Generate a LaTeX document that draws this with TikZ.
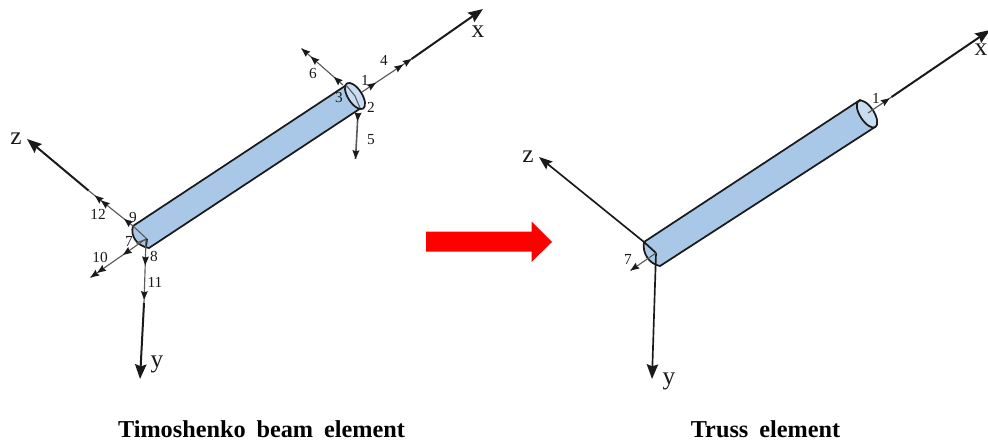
\documentclass[tikz,border=0pt]{standalone}
\usepackage{fontspec}
\setmainfont{Liberation Serif}
\usetikzlibrary{arrows.meta,decorations.markings}
\definecolor{cyl}{HTML}{A9C8E8}
\definecolor{capc}{HTML}{C9DDF2}
\definecolor{ink}{HTML}{1A1A1A}
\definecolor{thin}{HTML}{5A5A5A}
\tikzset{
  axisline/.style={draw=ink,line width=1.5pt,-{Stealth[length=11pt,width=8.5pt,inset=1.5pt]}},
  dofline/.style={draw=thin,line width=.85pt},
  head/.style={postaction={decorate,decoration={markings,mark=at position #1 with {\arrow[ink]{Stealth[length=6.5pt,width=5pt,inset=.8pt]}}}}},
  num/.style={font=\fontsize{11.5}{13}\selectfont,text=ink,inner sep=0pt},
  axlabel/.style={font=\fontsize{19}{21}\selectfont,text=ink,inner sep=0pt},
  captext/.style={font=\fontsize{18.2}{20}\selectfont\bfseries,text=black,inner sep=0pt},
  cylline/.style={draw=ink,line width=1.3pt,line join=round},
}
\begin{document}
\begin{tikzpicture}[x=.75pt,y=-.75pt]
\useasboundingbox (0,0) rectangle (988,443);
\clip (0,0) rectangle (988,443);
% ---------- left: Timoshenko beam
\coordinate (LA) at (348,84);
\coordinate (LB) at (361,108);
\coordinate (LC) at (133,226);
\coordinate (LD) at (149,248);
\coordinate (LCr) at (355,96);
\coordinate (LCl) at (147,239);
\filldraw[cylline,fill=cyl] (LA) -- (LC) .. controls (130,236) and (137,246) .. (LD) -- (LB) -- cycle;
\filldraw[cylline,fill=capc] (LCr) ellipse [x radius=15,y radius=7,rotate=-57];
\draw[dofline] (LCr) -- (346,85) (LCr) -- (360,108);
\draw[dofline] (LCl) -- (LC) (LCl) -- (136,243);
\draw[cylline] (LCl) -- (146,247);
% x axis
\coordinate (Lx0) at (362,92);
\coordinate (Lx1) at (411.5,59);
\coordinate (Lxt) at (483,9);
\draw[dofline,head=.28,head=.83,head=1] (Lx0) -- (Lx1);
\draw[axisline] (Lx1) -- (Lxt);
\coordinate (L6a) at (343,85);
\coordinate (L6b) at (301.5,48.5);
\draw[dofline,head=.22,head=.78,head=1] (L6a) -- (L6b);
\coordinate (L5a) at (358,113);
\coordinate (L5b) at (355.5,159);
\draw[dofline,line width=1.2pt,head=.18,head=1] (L5a) -- (L5b);
% z axis
\coordinate (Lz0) at (133,226);
\coordinate (Lz1) at (88.5,190.5);
\coordinate (Lzt) at (27,139);
\draw[dofline,head=.2,head=.72,head=.86] (Lz0) -- (Lz1);
\draw[axisline] (Lz1) -- (Lzt);
\coordinate (L10a) at (146.5,238.5);
\coordinate (L10b) at (90.5,277.5);
\draw[dofline,head=.42,head=.88,head=1] (L10a) -- (L10b);
% y axis
\coordinate (Ly0) at (146,240);
\coordinate (Ly1) at (144,303);
\coordinate (Lyt) at (140,379);
\draw[dofline,head=.4,head=.95] (Ly0) -- (Ly1);
\draw[axisline] (Ly1) -- (Lyt);
\node[num] (n1) at (365,80) {1};
\node[num] (n2) at (371,107) {2};
\node[num] (n3) at (339,97) {3};
\node[num] (n4) at (384,60) {4};
\node[num] (n5) at (371,140) {5};
\node[num] (n6) at (313,73) {6};
\node[num] (n7) at (129,241) {7};
\node[num] (n8) at (154,256) {8};
\node[num] (n9) at (133,217) {9};
\node[num] (n10) at (100,257) {10};
\node[num] (n11) at (155,282) {11};
\node[num] (n12) at (98,214) {12};
\node[axlabel] (lx) at (478,32) {x};
\node[axlabel] (lz) at (16,139) {z};
\node[axlabel] (ly) at (157,364) {y};
% ---------- red arrow
\fill[red] (426,231.5) -- (531.5,231.5) -- (531.5,221.5) -- (552,242) -- (531.5,262) -- (531.5,251.5) -- (426,251.5) -- cycle;
% ---------- right: truss
\coordinate (RA) at (860,100);
\coordinate (RB) at (875,127);
\coordinate (RC) at (644,242);
\coordinate (RD) at (660,266);
\coordinate (RCr) at (867,114);
\coordinate (RCl) at (656,253);
\filldraw[cylline,fill=cyl] (RA) -- (RC) .. controls (642,253) and (649,264) .. (RD) -- (RB) -- cycle;
\filldraw[cylline,fill=capc] (RCr) ellipse [x radius=15.5,y radius=7,rotate=-57];
\draw[cylline] (RC) -- (RCl);
\coordinate (Rx0) at (868,113);
\coordinate (Rx1) at (891.5,97);
\coordinate (Rxt) at (990,30);
\draw[dofline,head=.92] (Rx0) -- (Rx1);
\draw[axisline] (Rx1) -- (Rxt);
\coordinate (Rzt) at (539,157);
\draw[axisline,-{Stealth[length=10pt,width=7.5pt,inset=1.5pt]},line width=1.25pt] (RC) -- (Rzt);
\coordinate (Ryt) at (652,379);
\draw[axisline,line width=1.25pt] (RCl) -- (Ryt);
\coordinate (R7t) at (630.5,270.5);
\draw[dofline,head=1] (RCl) -- (R7t);
\node[num] (r1) at (876,98) {1};
\node[num] (r7) at (628,259) {7};
\node[axlabel] (rx) at (981,50) {x};
\node[axlabel] (rz) at (528,157) {z};
\node[axlabel] (ry) at (669,381) {y};
% ---------- captions
\node[captext] (cap1) at (261.5,429) {Timoshenko\hspace{.2em} beam\hspace{.2em} element};
\node[captext] (cap2) at (765.5,429) {Truss\hspace{.2em} element};
\end{tikzpicture}
\end{document}
